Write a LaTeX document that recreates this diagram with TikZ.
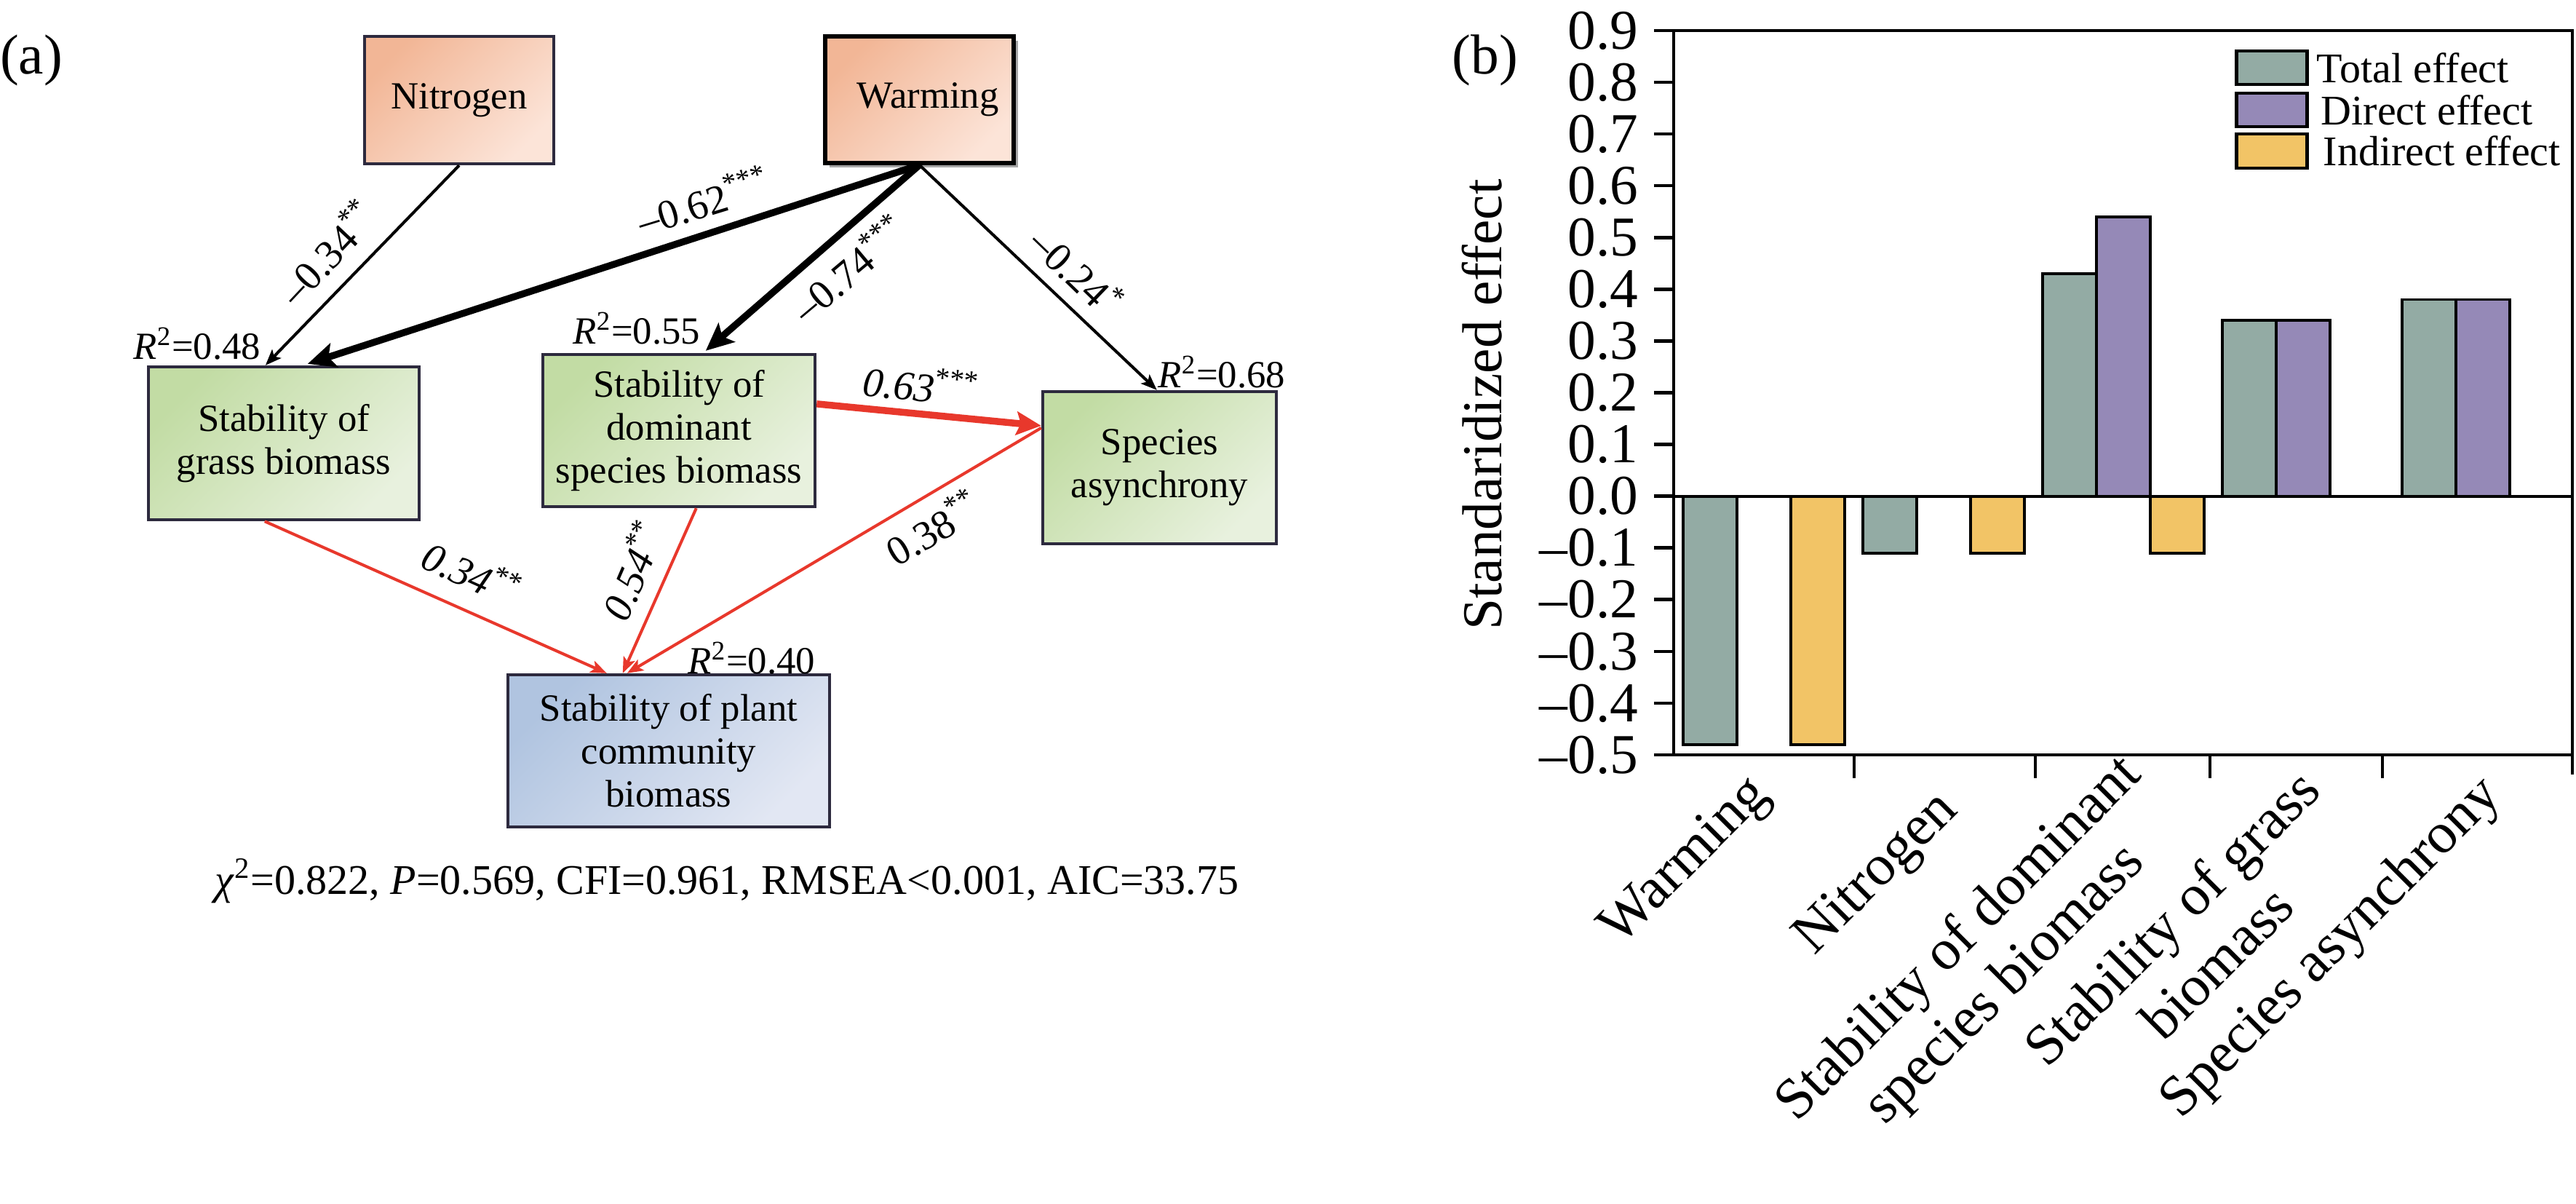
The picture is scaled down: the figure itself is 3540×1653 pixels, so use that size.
\documentclass[tikz,border=0pt]{standalone}
\usepackage{fontspec}
\setmainfont{Liberation Serif}
\usetikzlibrary{arrows.meta,shadows,calc}
\definecolor{redarrow}{RGB}{232,56,44}
\definecolor{boxline}{RGB}{45,42,62}
\definecolor{orA}{RGB}{242,182,150}
\definecolor{orB}{RGB}{252,228,216}
\definecolor{grA}{RGB}{194,220,164}
\definecolor{grB}{RGB}{232,241,222}
\definecolor{blA}{RGB}{176,196,224}
\definecolor{blB}{RGB}{226,231,243}
\definecolor{totc}{RGB}{147,171,164}
\definecolor{dirc}{RGB}{149,137,183}
\definecolor{indc}{RGB}{242,196,102}
\begin{document}
\begin{tikzpicture}[x=0.01cm,y=-0.01cm,
  boxbase/.style={draw=boxline,line width=1.2pt,align=center,inner sep=0pt,font=\fontsize{15pt}{16.8pt}\selectfont},
  orbox/.style={boxbase,top color=orA,bottom color=orB,shading angle=45},
  grbox/.style={boxbase,top color=grA,bottom color=grB,shading angle=45},
  blbox/.style={boxbase,top color=blA,bottom color=blB,shading angle=45},
  thinblk/.style={line width=1.15pt,draw=black,-{Stealth[length=0.22cm,width=0.17cm,inset=0.05cm]}},
  thickblk/.style={line width=2.7pt,draw=black,-{Stealth[length=0.38cm,width=0.34cm,inset=0.08cm]}},
  thinred/.style={line width=1.15pt,draw=redarrow,-{Stealth[length=0.22cm,width=0.17cm,inset=0.05cm]}},
  thickred/.style={line width=2.7pt,draw=redarrow,-{Stealth[length=0.34cm,width=0.32cm,inset=0.06cm]}},
  coef/.style={inner sep=0pt,font=\fontsize{16pt}{18pt}\selectfont},
  rlab/.style={inner sep=0pt,font=\fontsize{15pt}{18pt}\selectfont},
  panlab/.style={inner sep=0pt,font=\fontsize{22pt}{24pt}\selectfont},
  axisline/.style={line width=1.3pt,line cap=rect},
  ticklab/.style={inner sep=0pt,anchor=east,font=\fontsize{22pt}{24pt}\selectfont},
  xlab/.style={inner sep=0pt,anchor=north east,rotate=45,align=center,font=\fontsize{22.5pt}{25pt}\selectfont},
  barsty/.style={draw=black,line width=1.1pt},
  legbox/.style={draw=black,line width=1.4pt},
  legtext/.style={inner sep=0pt,anchor=west,font=\fontsize{16.5pt}{18pt}\selectfont},
]
\useasboundingbox (0,0) rectangle (3540,1653);

%% ---------------- panel (a) ----------------
\node[panlab] (pa) at (43,83) {(a)};

\node[orbox,minimum width=2.6cm,minimum height=1.75cm] (nit) at (631,137.5) {Nitrogen};
\node[orbox,draw=black,line width=1.5pt,minimum width=2.59cm,minimum height=1.74cm,
      drop shadow={shadow xshift=0.06cm,shadow yshift=-0.06cm,opacity=0.35,fill=black}] (warm) at (1263.5,137) {\hspace*{0.23cm}Warming};
\node[grbox,minimum width=3.72cm,minimum height=2.1cm] (grass) at (390,609) {Stability of\\grass biomass};
\node[grbox,minimum width=3.74cm,minimum height=2.09cm] (dom) at (933,591.5) {Stability of\\dominant\\species biomass};
\node[grbox,minimum width=3.21cm,minimum height=2.09cm] (asyn) at (1593.5,642.5) {Species\\asynchrony};
\node[blbox,minimum width=4.42cm,minimum height=2.09cm] (comm) at (919,1031.5) {Stability of plant\\community\\biomass};

\draw[thinblk] (nit.south) -- ($(grass.north west)+(163,0)$);
\draw[thickblk] (warm.south) -- ($(grass.north west)+(221,-2)$);
\draw[thickblk] (warm.south) -- ($(dom.north west)+(226,-3)$);
\draw[thinblk] (warm.south) -- ($(asyn.north west)+(159,0)$);
\draw[thickred] ($(dom.north east)+(0,70)$) -- ($(asyn.north west)+(0,49)$);
\draw[thinred] ($(grass.south west)+(162,0)$) -- ($(comm.north west)+(138,0)$);
\draw[thinred] ($(dom.south west)+(213,0)$) -- ($(comm.north west)+(160,0)$);
\draw[thinred] ($(asyn.north west)+(0,52)$) -- ($(comm.north west)+(166,0)$);

\node[coef,rotate=46.7] (c1) at (449,346) {–0.34\textsuperscript{**}};
\node[coef,rotate=17] (c2) at (966,275) {–0.62\textsuperscript{***}};
\node[coef,rotate=40] (c3) at (1166,368) {–0.74\textsuperscript{***}};
\node[coef,rotate=-44] (c4) at (1481,372) {–0.24\textsuperscript{*}};
\node[coef,rotate=-5.5] (c5) at (1266,528) {\textit{0.63}\textsuperscript{***}};
\node[coef,rotate=-24.3] (c6) at (649,786) {\textit{0.34}\textsuperscript{**}};
\node[coef,rotate=66.6] (c7) at (868,783) {\textit{0.54}\textsuperscript{**}};
\node[coef,rotate=30.6] (c8) at (1281,724) {0.38\textsuperscript{**}};

\node[rlab] (r1) at (271,472) {\textit{R}\textsuperscript{2}=0.48};
\node[rlab] (r2) at (875,451) {\textit{R}\textsuperscript{2}=0.55};
\node[rlab] (r3) at (1679,511) {\textit{R}\textsuperscript{2}=0.68};
\node[rlab] (r4) at (1033,904) {\textit{R}\textsuperscript{2}=0.40};

\node[inner sep=0pt,font=\fontsize{16.5pt}{18pt}\selectfont] (fit) at (999,1210)
  {\textit{χ}\textsuperscript{2}=0.822, \textit{P}=0.569, CFI=0.961, RMSEA<0.001, AIC=33.75};

%% ---------------- panel (b) ----------------
\node[panlab] (pb) at (2041,83) {(b)};
\node[inner sep=0pt,rotate=90,font=\fontsize{22pt}{24pt}\selectfont] (ytitle) at (2037,556) {Standaridized effect};

% bars
\draw[barsty,fill=totc] (2313,681.6) rectangle (2387,1022.7);
\draw[barsty,fill=indc] (2461,681.6) rectangle (2535,1022.7);
\draw[barsty,fill=totc] (2560,681.6) rectangle (2634,759.8);
\draw[barsty,fill=indc] (2708,681.6) rectangle (2782,759.8);
\draw[barsty,fill=totc] (2807,681.6) rectangle (2881,376.0);
\draw[barsty,fill=dirc] (2881,681.6) rectangle (2955,297.8);
\draw[barsty,fill=indc] (2955,681.6) rectangle (3029,759.8);
\draw[barsty,fill=totc] (3054,681.6) rectangle (3128,440.0);
\draw[barsty,fill=dirc] (3128,681.6) rectangle (3202,440.0);
\draw[barsty,fill=totc] (3301,681.6) rectangle (3375,411.5);
\draw[barsty,fill=dirc] (3375,681.6) rectangle (3449,411.5);

% frame and axes
\draw[axisline] (2300,42) -- (3535,42) -- (3535,1062);
\draw[axisline] (2300,42) -- (2300,1037) -- (3535,1037);
\draw[line width=1.2pt] (2275,681.6) -- (3535,681.6);
\foreach \v/\t [count=\i] in {0.9/0.9,0.8/0.8,0.7/0.7,0.6/0.6,0.5/0.5,0.4/0.4,0.3/0.3,0.2/0.2,0.1/0.1,0/0.0,-0.1/–0.1,-0.2/–0.2,-0.3/–0.3,-0.4/–0.4,-0.5/–0.5}{
  \draw[axisline] (2275,{681.6-710.7*(\v)}) -- (2300,{681.6-710.7*(\v)});
  \node[ticklab] (yt\i) at (2252,{681.6-710.7*(\v)}) {\t};
}
\foreach \x in {2548,2797,3037,3274}{
  \draw[axisline] (\x,1037) -- (\x,1067);
}

% category labels
\node[xlab] (xl1) at (2396,1056) {Warming};
\node[xlab] (xl2) at (2655,1077) {Nitrogen};
\node[xlab] (xl3) at (2906,1027) {Stability of dominant\\species biomass};
\node[xlab] (xl4) at (3153,1049) {Stability of grass\\biomass};
\node[xlab] (xl5) at (3401,1056) {Species asynchrony};

% legend
\draw[legbox,fill=totc] (3073,70) rectangle (3170,116);
\draw[legbox,fill=dirc] (3073,128) rectangle (3170,174);
\draw[legbox,fill=indc] (3073,184) rectangle (3170,231);
\node[legtext] (lg1) at (3183,93) {Total effect};
\node[legtext] (lg2) at (3189,151) {Direct effect};
\node[legtext] (lg3) at (3192,207) {Indirect effect};
\end{tikzpicture}
\end{document}
